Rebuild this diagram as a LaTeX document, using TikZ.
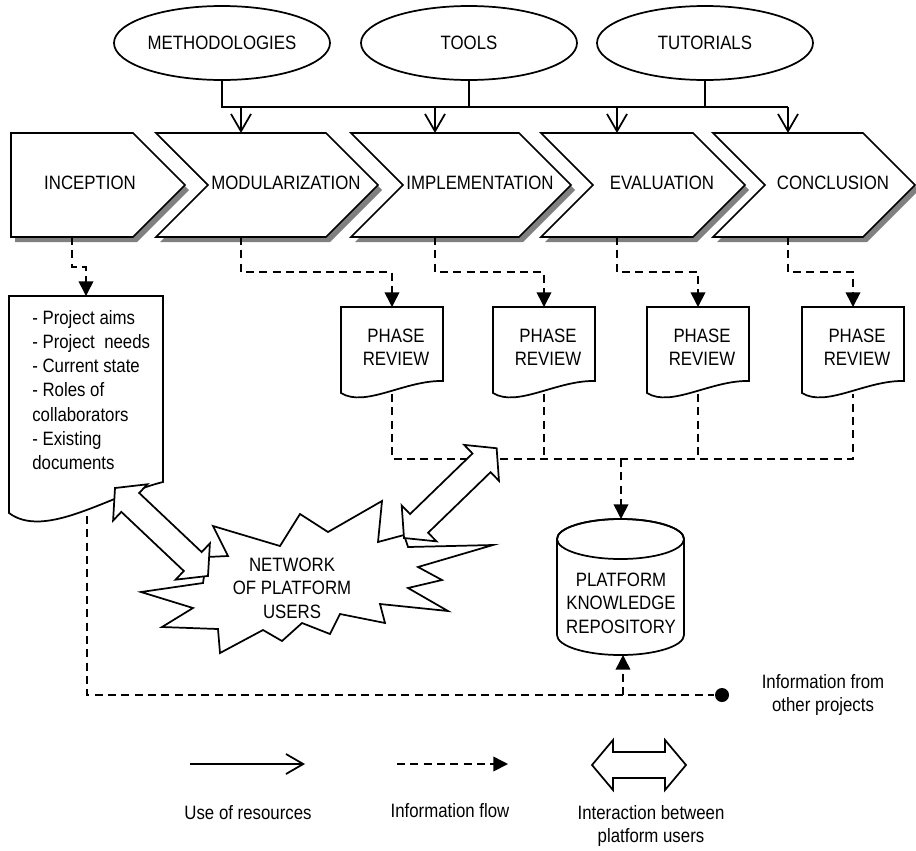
\documentclass[tikz,border=0pt]{standalone}
\usepackage{fontspec}
\setmainfont[FakeStretch=0.87]{Liberation Sans}
\usepackage{tikz}
\usetikzlibrary{arrows.meta,shapes.geometric}

\begin{document}
\begin{tikzpicture}[x=0.75pt,y=-0.75pt,line width=1.3pt,
    font=\fontsize{14.5}{17.5}\selectfont,
    resarrow/.style={-{Straight Barb[length=13pt,width=15pt]}},
    infoline/.style={line width=1.2pt,dash pattern=on 6pt off 4pt},
    infoarrow/.style={infoline,-{Triangle[length=11pt,width=11pt]}},
    res/.style={ellipse,draw,fill=white,inner sep=0pt,minimum width=162pt,minimum height=55.5pt}]
  \useasboundingbox (0,0) rectangle (916,850);

  \fill[gray,shift={(4,5)}] (11,133) -- (133,133) -- (185,185) -- (133,237) -- (11,237) -- cycle;
  \filldraw[fill=white] (11,133) -- (133,133) -- (185,185) -- (133,237) -- (11,237) -- cycle;
  \node (inc) at (90,183) {INCEPTION};
  \coordinate (inc-b) at (72,237);

  \foreach \x/\w/\n/\t in {156/170/mod/MODULARIZATION,351/168/imp/IMPLEMENTATION,541/152/eva/EVALUATION,713/150/con/CONCLUSION}{
    \fill[gray,shift={(4,5)}] (\x,133) -- ++(\w,0) -- ++(52,52) -- ++(-52,52) -- ++(-\w,0) -- ++(52,-52) -- cycle;
    \filldraw[fill=white] (\x,133) -- ++(\w,0) -- ++(52,52) -- ++(-52,52) -- ++(-\w,0) -- ++(52,-52) -- cycle;
    \node (\n) at (\x+\w/2+45,183) {\t};
    \coordinate (\n-t) at (\x+\w/2,133);
    \coordinate (\n-b) at (\x+\w/2,237);
  }

  \node[res] (meth) at (222,43) {METHODOLOGIES};
  \node[res] (tools) at (469,43) {TOOLS};
  \node[res] (tut) at (705,43) {TUTORIALS};
  \coordinate (busL) at (222,107);
  \coordinate (busR) at (788,107);
  \draw (meth.south) -- (busL) -- (busR);
  \draw (tools.south) -- (tools.south |- busL);
  \draw (tut.south) -- (tut.south |- busL);
  \foreach \n in {mod,imp,eva,con}
    \draw[resarrow] (\n-t |- busL) -- (\n-t);

  \filldraw[fill=white] (9,296) -- (163,296) -- (163,482) .. controls (110,495) and (45,540) .. (9,513) -- cycle;
  \node[anchor=west,align=left,font=\fontsize{14.5}{18.2}\selectfont] (ctx) at (27,390)
    {- Project aims\\- Project~ needs\\- Current state\\- Roles of\\collaborators\\- Existing\\documents};
  \coordinate (ctx-t) at (86,296);
  \coordinate (ctx-b) at (87,516);
  \draw[infoarrow] (inc-b) -- ++(0,30) -| (ctx-t);

  \foreach \x/\n in {341/mod,493/imp,647/eva,802/con}{
    \filldraw[fill=white] (\x,307) -- ++(102,0) -- ++(0,74) .. controls +(-38,-1) and +(24,15) .. (\x,393) -- cycle;
    \node[align=center] (rev\n) at (\x+55,347) {PHASE\\REVIEW};
    \coordinate (rev\n-t) at (\x+51,307);
    \coordinate (rev\n-b) at (\x+51,394);
    \draw[infoarrow] (\n-b) -- ++(0,35) -| (rev\n-t);
  }

  \filldraw[fill=white] (557,539) -- (557,635) arc[start angle=180,end angle=0,x radius=63.5,y radius=20]
    -- (684,539) arc[start angle=0,end angle=-180,x radius=63.5,y radius=20] -- cycle;
  \draw (620.5,539) ellipse[x radius=63.5,y radius=20];
  \node[align=center] (repo) at (621,603) {PLATFORM\\KNOWLEDGE\\REPOSITORY};
  \coordinate (repo-t) at (621,519);
  \coordinate (repo-b) at (623,655);

  \coordinate (busD) at (621,459);
  \draw[infoline] (revmod-b) |- (revcon-b |- busD) -- (revcon-b);
  \draw[infoline] (revimp-b) -- (revimp-b |- busD);
  \draw[infoline] (reveva-b) -- (reveva-b |- busD);
  \draw[infoarrow] (busD) -- (repo-t);

  \node[circle,fill,inner sep=0pt,minimum size=10.5pt] (dot) at (722,695) {};
  \draw[infoline] (ctx-b) |- (dot);
  \draw[infoarrow] (repo-b |- dot) -- (repo-b);
  \node[align=center] (other) at (823,695) {Information from\\other projects};

  \filldraw[fill=white] (141,592) -- (203,583) -- (207,557) -- (228,556) -- (213,526) -- (280,546)
    -- (300,514) -- (328,532) -- (382,501) -- (378,542) -- (404,535) -- (408,547) -- (493,545)
    -- (418,567) -- (442,580) -- (408,588) -- (448,611) -- (380,604) -- (385,623) -- (340,614)
    -- (330,634) -- (302,623) -- (282,641) -- (263,630) -- (220,653) -- (218,629) -- (162,627)
    -- (193,608) -- cycle;
  \node[align=center] (net) at (292,588) {NETWORK\\OF PLATFORM\\USERS};

  \foreach \px/\py/\a/\l in {115/488/-43.4/128,404/538/44.1/129,592/765/0/94}
    \filldraw[fill=white,shift={(\px,\py)},rotate=\a] (0,0) -- (21,25) -- (21,13) -- (\l-21,13)
      -- (\l-21,25) -- (\l,0) -- (\l-21,-25) -- (\l-21,-13) -- (21,-13) -- (21,-25) -- cycle;

  \coordinate (lg1a) at (190,764);
  \coordinate (lg1b) at (305,764);
  \coordinate (lg2a) at (397,764);
  \coordinate (lg2b) at (508,764);
  \draw[resarrow] (lg1a) -- (lg1b);
  \draw[infoarrow] (lg2a) -- (lg2b);
  \node (lg1) at (248,813) {Use of resources};
  \node (lg2) at (450,811) {Information flow};
  \node[align=center] (lg3) at (651,826) {Interaction between\\platform users};
\end{tikzpicture}
\end{document}
